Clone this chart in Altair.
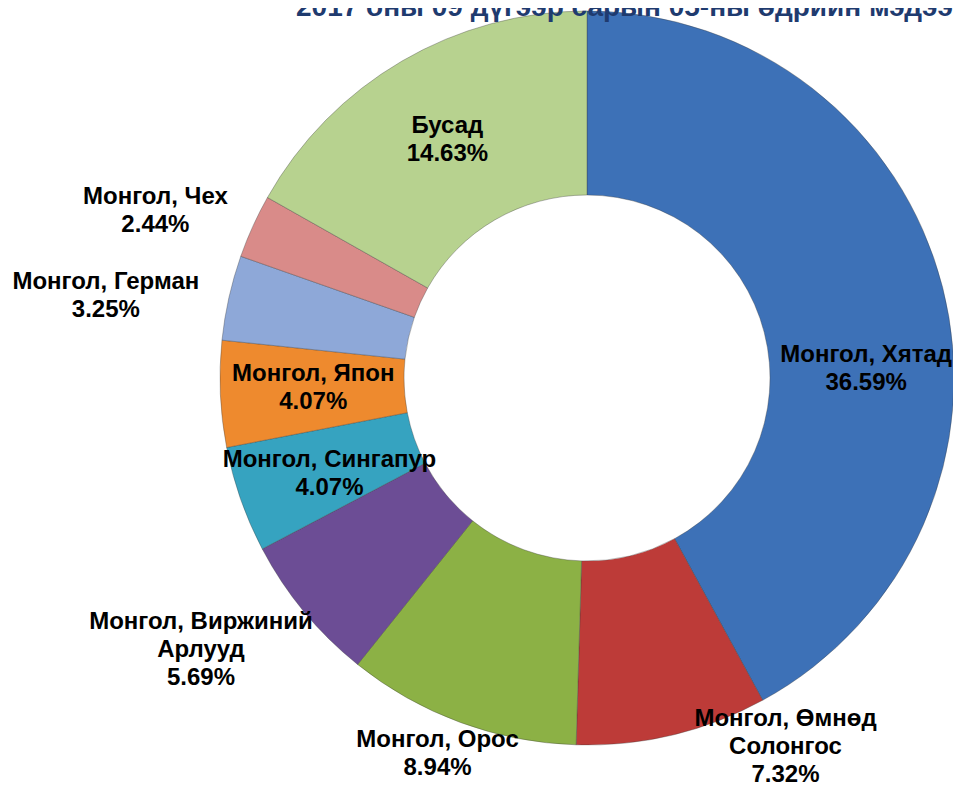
import altair as alt
import pandas as pd

# ---- data ----
categories = ["Монгол, Хятад", "Монгол, Өмнөд Солонгос", "Монгол, Орос",
              "Монгол, Виржиний Арлууд", "Монгол, Сингапур", "Монгол, Япон",
              "Монгол, Герман", "Монгол, Чех", "Бусад"]
label_names = ["Монгол, Хятад", "Монгол, Өмнөд\nСолонгос", "Монгол, Орос",
               "Монгол, Виржиний\nАрлууд", "Монгол, Сингапур", "Монгол, Япон",
               "Монгол, Герман", "Монгол, Чех", "Бусад"]
shares = [36.59, 7.32, 8.94, 5.69, 4.07, 4.07, 3.25, 2.44, 14.63]
pct_labels = ["36.59%", "7.32%", "8.94%", "5.69%", "4.07%", "4.07%", "3.25%", "2.44%", "14.63%"]
colors = ["#3D71B7", "#BD3B38", "#8CB145", "#6C4D95", "#36A3C0",
          "#EE8A2E", "#8EA8D8", "#D98B89", "#B7D28F"]
title_text = "2017 оны 09 дүгээр сарын 05-ны өдрийн мэдээ"

# ---- layout (label radius and nudges, not data) ----
CX, CY = 579, 370
R_OUT, R_IN = 367, 183
LH = 28
label_layout = {
    "Монгол, Хятад": (285, 3, 61),
    "Монгол, Өмнөд Солонгос": (428, 99, -47),
    "Монгол, Орос": (404, -10, -3),
    "Монгол, Виржиний Арлууд": (472, -22, -28),
    "Монгол, Сингапур": (274, 1, 5),
    "Монгол, Япон": (274, 0, -2),
    "Монгол, Герман": (488, -5, 25),
    "Монгол, Чех": (463, -10, 24),
    "Бусад": (275, -1, 0),
}

labels = [n + "\n" + p for n, p in zip(label_names, pct_labels)]
df = pd.DataFrame({
    "idx": list(range(len(categories))),
    "cat": categories,
    "share": shares,
    "label": labels,
})
n_lines = {c: l.count("\n") + 1 for c, l in zip(categories, labels)}

base = alt.Chart(df)

arcs = base.mark_arc(
    innerRadius=R_IN, outerRadius=R_OUT, stroke="#3a3a3a", strokeOpacity=0.35, strokeWidth=1
).encode(
    theta=alt.Theta("share:Q", stack=True),
    color=alt.Color("cat:N", scale=alt.Scale(domain=categories, range=colors), legend=None),
    order=alt.Order("idx:Q"),
    x=alt.value(CX),
    y=alt.value(CY),
)

layers = [arcs]
for cat, (r, dx, dy) in label_layout.items():
    dy_c = dy - (n_lines[cat] - 1) * LH / 2
    t = base.transform_calculate(
        t=f"datum.cat === '{cat}' ? datum.label : ''"
    ).mark_text(
        radius=r, dx=dx, dy=dy_c, font="Liberation Sans", fontWeight="bold",
        fontSize=24, lineHeight=LH, lineBreak="\n", align="center",
        baseline="middle", color="#000000"
    ).encode(
        theta=alt.Theta("share:Q", stack=True),
        order=alt.Order("idx:Q"),
        text="t:N",
        x=alt.value(CX),
        y=alt.value(CY),
    )
    layers.append(t)

title = alt.Chart(pd.DataFrame({"t": [title_text]})).mark_text(
    align="left", baseline="alphabetic", fontSize=28, fontWeight="bold",
    font="Liberation Sans", color="#1F3B6F"
).encode(text="t:N", x=alt.value(288), y=alt.value(8))
layers.append(title)

chart = alt.layer(*layers).properties(
    width=945, height=781, autosize="none", padding=0
).configure_view(stroke=None)

chart.save("out.html", embed_options={"renderer": "svg", "actions": False})
